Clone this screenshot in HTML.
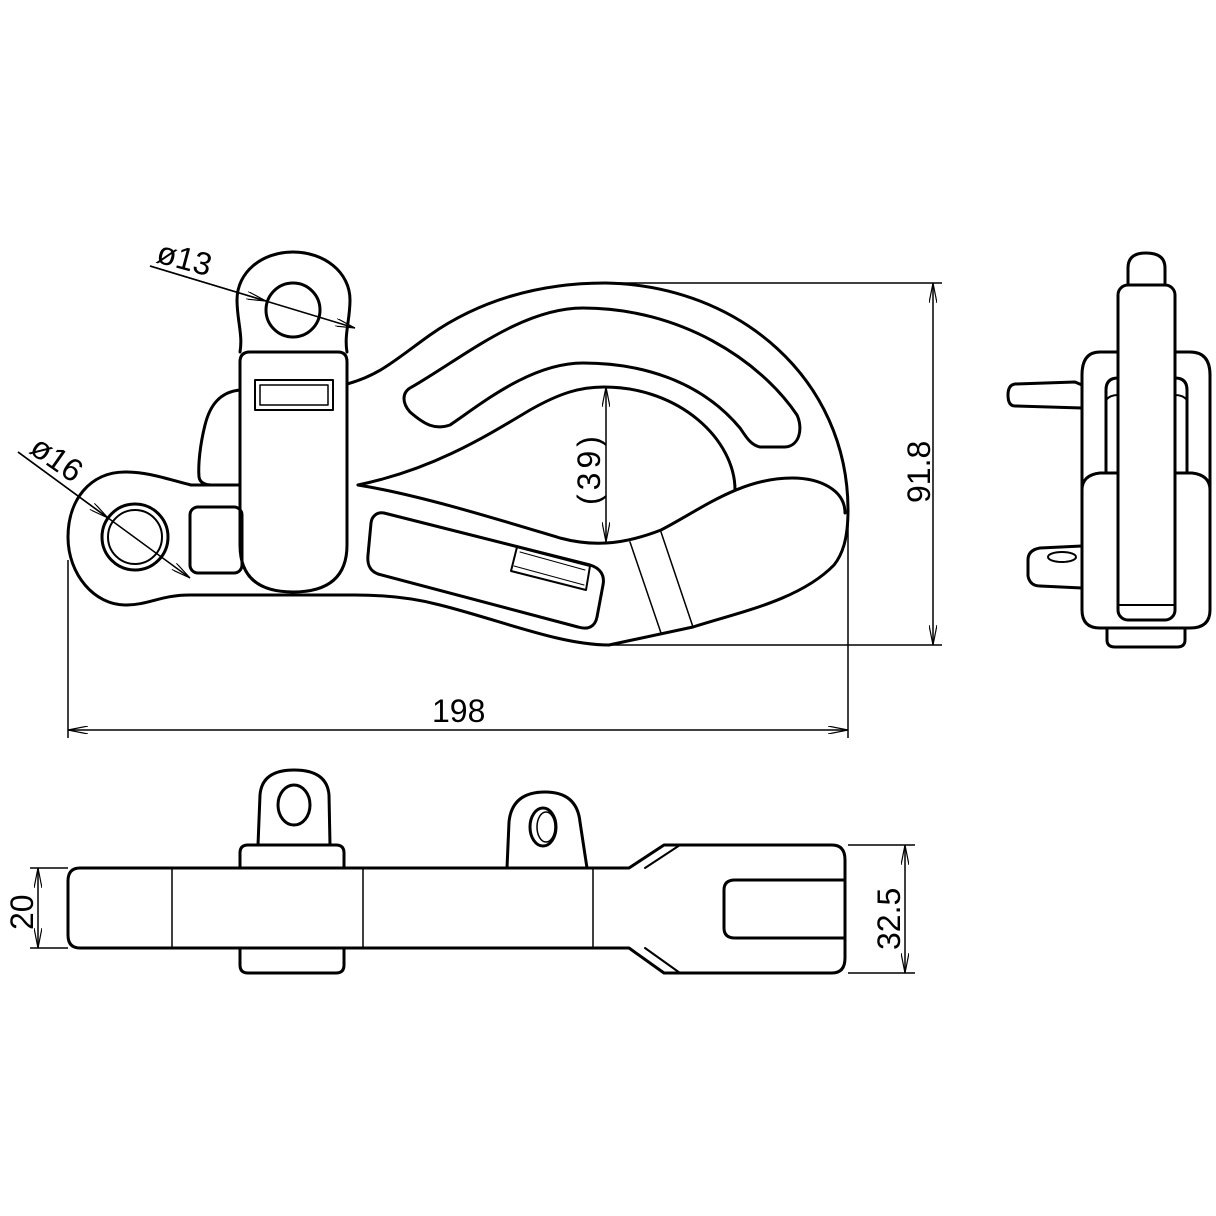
<!DOCTYPE html>
<html><head><meta charset="utf-8"><style>
html,body{margin:0;padding:0;background:#fff;width:1216px;height:1216px;overflow:hidden}
svg{display:block}
text{font-family:"Liberation Sans",sans-serif;fill:#000}
</style></head><body>
<svg width="1216" height="1216" viewBox="0 0 1216 1216" xmlns="http://www.w3.org/2000/svg">
<defs>
<marker id="a" viewBox="0 0 20 8" refX="20" refY="4" markerWidth="20" markerHeight="8" orient="auto-start-reverse" markerUnits="userSpaceOnUse">
<path d="M0,0 L20,4 L0,8" fill="none" stroke="#000" stroke-width="1.2"/></marker>
</defs>
<g fill="none" stroke="#000" stroke-width="3" stroke-linejoin="round" stroke-linecap="round">
<!-- hook outer -->
<path d="M347,384 C380,375 395,360 430,335 C480,300 540,283 605,283 C740,285 848,380 848,510 C848,540 842,555 834,565 C800,600 740,612 693,627 L609,645 C560,645 500,620 440,605 C410,597 380,595 355,595"/>
<!-- hook inner + tip -->
<path d="M358,485 C430,470 480,440 530,410 C560,393 580,387 604,387 C680,387 735,440 735,490"/>
<path d="M358,485 C420,495 500,520 560,538 C590,546 620,546 661,530 C700,510 740,478 792,478 C820,478 845,490 845,513"/>
<!-- latch lines -->
<path d="M630,542 L661,633 M661,532 L693,627" stroke-width="1.5"/>
<!-- upper slot -->
<path d="M410,388 C460,360 520,308 583,308 C680,308 760,360 797,415 C803,428 800,446 785,447 L760,447 C750,445 745,435 740,428 C700,380 640,363 583,363 C530,363 480,405 450,425 C435,430 425,425 410,412 C402,403 402,393 410,388 Z"/>
<!-- lower slot -->
<path d="M384,513 L590,565 C600,568 605,575 603,585 L597,617 C595,627 588,630 578,627 L378,574 C370,571 367,565 368,555 L371,523 C372,515 378,512 384,513 Z"/>
<path d="M517,547 L590,566 L586,590 L511,571 Z" stroke-width="2"/>
<path d="M520,552 L585,570 M514,566 L584,585" stroke-width="1"/>
<!-- left eye body -->
<path d="M191,485 C170,480 150,472 125,472 C90,472 68,500 68,537 C68,575 95,605 125,605 C150,605 160,595 190,595 L355,595"/>
<path d="M191,485 L240,485"/>
<circle cx="135" cy="537" r="33"/>
<circle cx="135" cy="537" r="27" stroke-width="2"/>
<rect x="190" y="507" width="52" height="66" rx="8"/>
<path d="M240,390 C220,392 210,405 205,425 C200,445 198,465 199,477 C200,483 205,485 212,485"/>
<!-- top eye & shank -->
<path d="M240,352 C243,335 237,320 237,300 C237,272 262,252 293,252 C324,252 350,272 350,300 C350,320 344,335 347,352"/>
<circle cx="293" cy="310" r="27"/>
<path d="M250,352 L338,352 Q347,352 347,362 L347,545 Q347,592 293,592 Q240,592 240,545 L240,362 Q240,352 250,352 Z"/>
<rect x="255" y="380" width="78" height="30" stroke-width="2"/>
<rect x="260" y="385" width="68" height="20" stroke-width="1.5"/>
<!-- side view -->
<path d="M1128,283 L1128,268 Q1128,253 1146,253 Q1165,253 1165,268 L1165,283"/>
<rect x="1118" y="285" width="57" height="335" rx="10"/>
<path d="M1118,352 L1100,352 Q1082,352 1082,375 L1082,610 Q1082,628 1100,628 L1190,628 Q1210,628 1210,610 L1210,375 Q1210,352 1190,352 L1175,352"/>
<path d="M1106,473 L1106,390 Q1106,378 1118,378 M1187,473 L1187,390 Q1187,378 1175,378"/>
<path d="M1106,400 Q1110,395 1118,395 M1187,400 Q1183,395 1175,395" stroke-width="2"/>
<path d="M1082,490 Q1082,475 1100,473 L1118,473 M1210,490 Q1210,475 1192,473 L1175,473"/>
<path d="M1118,605 L1175,605" stroke-width="2"/>
<path d="M1107,628 L1107,640 Q1107,647 1115,647 L1177,647 Q1185,647 1185,640 L1185,628"/>
<path d="M1082,385 L1075,382 L1015,384 Q1008,385 1008,395 Q1008,406 1015,406 L1082,408"/>
<path d="M1082,546 L1040,548 Q1028,550 1028,560 L1028,576 Q1030,586 1040,586 L1082,588"/>
<ellipse cx="1062" cy="557" rx="14" ry="5" stroke-width="2"/>
<!-- bottom view -->
<path d="M80,868 L629,868 L664,845 L832,845 Q845,845 845,860 L845,958 Q845,973 832,973 L664,973 L629,948 L80,948 Q68,948 68,935 L68,881 Q68,868 80,868 Z"/>
<path d="M645,868 L680,845 M645,948 L680,973" stroke-width="2"/>
<path d="M172,868 L172,948 M363,868 L363,948 M593,868 L593,948" stroke-width="1.5"/>
<path d="M845,880 L735,880 Q724,880 724,890 L724,928 Q724,938 735,938 L845,938"/>
<path d="M240,868 L240,853 Q240,845 248,845 L336,845 Q344,845 344,853 L344,868"/>
<path d="M240,948 L240,965 Q240,973 248,973 L336,973 Q344,973 344,965 L344,948"/>
<path d="M258,845 L260,795 Q262,770 294,770 Q327,770 329,795 L330,845"/>
<ellipse cx="294" cy="805" rx="16" ry="20"/>
<path d="M507,868 L509,822 Q512,792 545,792 Q577,792 580,822 L587,868"/>
<ellipse cx="543" cy="827" rx="13" ry="19"/>
<ellipse cx="546" cy="827" rx="9" ry="15" stroke-width="1.5"/>
</g>
<!-- dimensions -->
<g fill="none" stroke="#000" stroke-width="1.5">
<line x1="150" y1="266" x2="355" y2="328" marker-end="url(#a)"/>
<line x1="150" y1="266" x2="266" y2="301" marker-end="url(#a)"/>
<line x1="18" y1="452" x2="190" y2="578" marker-end="url(#a)"/>
<line x1="18" y1="452" x2="108" y2="518" marker-end="url(#a)"/>
<line x1="606" y1="387" x2="606" y2="542" marker-start="url(#a)" marker-end="url(#a)"/>
<line x1="605" y1="283" x2="942" y2="283"/>
<line x1="609" y1="645" x2="942" y2="645"/>
<line x1="933" y1="283" x2="933" y2="645" marker-start="url(#a)" marker-end="url(#a)"/>
<line x1="68" y1="560" x2="68" y2="738"/>
<line x1="848" y1="515" x2="848" y2="738"/>
<line x1="68" y1="730" x2="848" y2="730" marker-start="url(#a)" marker-end="url(#a)"/>
<line x1="30" y1="868" x2="68" y2="868"/>
<line x1="30" y1="948" x2="68" y2="948"/>
<line x1="38" y1="868" x2="38" y2="948" marker-start="url(#a)" marker-end="url(#a)"/>
<line x1="848" y1="845" x2="915" y2="845"/>
<line x1="848" y1="973" x2="915" y2="973"/>
<line x1="905" y1="845" x2="905" y2="973" marker-start="url(#a)" marker-end="url(#a)"/>
</g>
<g font-size="32">
<text transform="translate(155,262) rotate(15)">ø13</text>
<text transform="translate(28,452) rotate(35)">ø16</text>
<text transform="translate(600,505) rotate(-90)" letter-spacing="4">(39)</text>
<text transform="translate(930,503) rotate(-90)">91.8</text>
<text x="432" y="722">198</text>
<text transform="translate(33,930) rotate(-90)">20</text>
<text transform="translate(900,950) rotate(-90)">32.5</text>
</g>
</svg>
</body></html>
